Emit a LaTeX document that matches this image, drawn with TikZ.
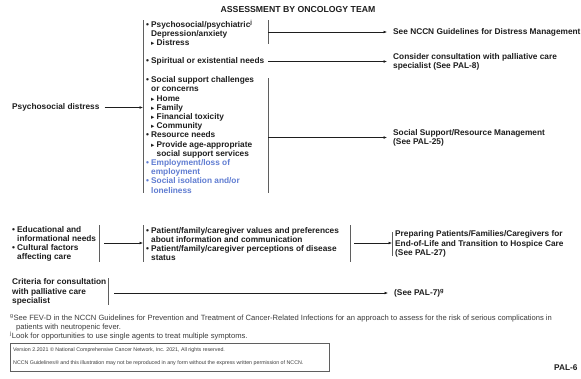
\documentclass[tikz,border=0pt]{standalone}
\usepackage{fontspec}
\usepackage{graphicx}
\setmainfont{Liberation Sans}
\newfontfamily\dvfont{DejaVu Sans}
\usetikzlibrary{arrows.meta}
\definecolor{ink}{RGB}{30,30,30}
\definecolor{bluetxt}{RGB}{96,125,210}
\definecolor{barcol}{RGB}{95,95,95}
\definecolor{fncol}{RGB}{60,60,60}
\newcommand\bl{\makebox[5pt][l]{\textbullet}}
\newcommand\sbl{\hspace*{5pt}\makebox[5.5pt][l]{{\dvfont\scalebox{0.8}{▸}}}}
\newcommand\ii{\hspace*{5pt}}
\newcommand\iii{\hspace*{10.5pt}}
\begin{document}
\begin{tikzpicture}[x=1pt,y=-1pt,
  txt/.style={font=\fontsize{8.3}{9.2}\selectfont\bfseries, align=left, inner sep=0pt, anchor=west, text=ink},
  ttl/.style={font=\fontsize{8.7}{10}\selectfont\bfseries, inner sep=0pt, text=ink},
  fn/.style={font=\fontsize{7.6}{9}\selectfont, align=left, inner sep=0pt, anchor=west, text=fncol},
  tiny/.style={font=\fontsize{5.3}{6}\selectfont, inner sep=0pt, anchor=west, text=fncol},
  bar/.style={draw=barcol, line width=0.8pt},
  conn/.style={draw=ink, line width=0.6pt, -{Latex[length=3.5pt,width=2.8pt]}},
  plain/.style={draw=ink, line width=0.6pt}]
\useasboundingbox (0,0) rectangle (581,378);
\fill[white] (0,0) rectangle (581,378);

\node[ttl] (title) at (298,10) {ASSESSMENT BY ONCOLOGY TEAM};

% left input
\node[txt] (psy) at (12,107.5) {Psychosocial distress};

% main assessment column
\node[txt] (g1) at (146,33.3) {\bl Psychosocial/psychiatric\textsuperscript{j}\\\ii Depression/anxiety\\\sbl Distress};
\node[txt] (g2) at (146,61.5) {\bl Spiritual or existential needs};
\node[txt] (g3) at (146,135) {\bl Social support challenges\\\ii or concerns\\\sbl Home\\\sbl Family\\\sbl Financial toxicity\\\sbl Community\\\bl Resource needs\\\sbl Provide age-appropriate\\\iii social support services\\\textcolor{bluetxt}{\bl Employment/loss of}\\\textcolor{bluetxt}{\ii employment}\\\textcolor{bluetxt}{\bl Social isolation and/or}\\\textcolor{bluetxt}{\ii loneliness}};

\coordinate (Ltop) at (143,20);
\coordinate (Lbot) at (143,193);
\coordinate (Lin) at (143,107.5);
\draw[bar] (Ltop) -- (Lbot);
\draw[conn] ([xshift=5pt]psy.east) -- (Lin);

% right bars of the column
\coordinate (R1top) at (268,20);
\coordinate (R1bot) at (268,44);
\coordinate (R1) at (268,32);
\draw[bar] (R1top) -- (R1bot);
\coordinate (R3top) at (268,78);
\coordinate (R3bot) at (268,193);
\coordinate (R3) at (268,137.5);
\draw[bar] (R3top) -- (R3bot);

% targets
\node[txt] (t1) at (393,32) {See NCCN Guidelines for Distress Management};
\node[txt] (t2) at (393,61.5) {Consider consultation with palliative care\\specialist (See PAL-8)};
\node[txt] (t3) at (393,137.5) {Social Support/Resource Management\\(See PAL-25)};

\draw[conn] (R1) -- ([xshift=-6pt]t1.west);
\draw[conn] ([xshift=4pt]g2.east) -- ([xshift=-6pt]t2.west);
\draw[conn] (R3) -- ([xshift=-6pt]t3.west);

% second block
\node[txt] (edu) at (12,244) {\bl Educational and\\\ii informational needs\\\bl Cultural factors\\\ii affecting care};
\coordinate (Etop) at (99.5,225);
\coordinate (Ebot) at (99.5,262);
\draw[bar] (Etop) -- (Ebot);
\coordinate (Eout) at (104,243);

\node[txt] (mid) at (146,244) {\bl Patient/family/caregiver values and preferences\\\ii about information and communication\\\bl Patient/family/caregiver perceptions of disease\\\ii status};
\coordinate (Mtop) at (143,225);
\coordinate (Mbot) at (143,262);
\coordinate (Min) at (143,243);
\draw[bar] (Mtop) -- (Mbot);
\coordinate (MRtop) at (350,225);
\coordinate (MRbot) at (350,262);
\draw[bar] (MRtop) -- (MRbot);
\coordinate (Mout) at (354,243);
\draw[conn] (Eout) -- (Min);

\node[txt] (t4) at (395,244) {Preparing Patients/Families/Caregivers for\\End-of-Life and Transition to Hospice Care\\(See PAL-27)};
\coordinate (T4top) at (392,232);
\coordinate (T4bot) at (392,256);
\coordinate (T4in) at (392,243);
\draw[bar] (T4top) -- (T4bot);
\draw[conn] (Mout) -- (T4in);

% criteria
\node[txt] (crit) at (12,292) {Criteria for consultation\\with palliative care\\specialist};
\coordinate (Ctop) at (108.5,278);
\coordinate (Cbot) at (108.5,305);
\draw[bar] (Ctop) -- (Cbot);
\coordinate (Cout) at (114,293);
\node[txt] (t5) at (394,293) {(See PAL-7)\textsuperscript{g}};
\draw[conn] (Cout) -- ([xshift=-6pt]t5.west);

% footnotes
\node[fn] (fn1) at (10,322.5) {\textsuperscript{g}See FEV-D in the NCCN Guidelines for Prevention and Treatment of Cancer-Related Infections for an approach to assess for the risk of serious complications in\\\hspace*{6pt}patients with neutropenic fever.};
\node[fn] (fn2) at (10,336) {\textsuperscript{j}Look for opportunities to use single agents to treat multiple symptoms.};

\draw[draw=barcol, line width=0.7pt] (10,343) rectangle (329,371);
\node[tiny] (cp1) at (13,350) {Version 2.2021 © National Comprehensive Cancer Network, Inc. 2021, All rights reserved.};
\node[tiny] (cp2) at (13,363) {NCCN Guidelines® and this illustration may not be reproduced in any form without the express written permission of NCCN.};

\node[txt] (pal) at (554,368) {PAL-6};
\end{tikzpicture}
\end{document}
